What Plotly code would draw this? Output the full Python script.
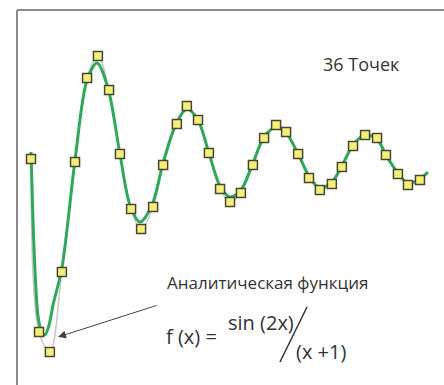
import plotly.graph_objects as go

# Sampled points (36 points)
pts_x = [0.00, 0.28, 0.66, 1.08, 1.54, 1.96, 2.34, 2.73, 3.11, 3.50, 3.85, 4.27,
         4.62, 5.10, 5.45, 5.84, 6.22, 6.61, 6.96, 7.34, 7.76, 8.15, 8.57, 8.92,
         9.34, 9.72, 10.10, 10.52, 10.87, 11.26, 11.68, 12.10, 12.41, 12.83, 13.18, 13.60]
pts_y = [0.005, -0.86, -0.96, -0.56, -0.01, 0.41, 0.52, 0.35, 0.03, -0.245, -0.345, -0.235,
         -0.025, 0.18, 0.27, 0.20, 0.035, -0.145, -0.21, -0.165, -0.025, 0.11, 0.175, 0.14,
         0.03, -0.09, -0.15, -0.12, -0.035, 0.07, 0.125, 0.11, 0.025, -0.07, -0.125, -0.10]

# Analytic function curve
fn_x = [0.00, 0.07, 0.14, 0.24, 0.35, 0.49, 0.63, 0.77, 1.08, 1.54, 1.96, 2.31, 2.69,
        3.11, 3.46, 3.81, 4.23, 4.62, 5.07, 5.45, 5.84, 6.22, 6.61, 6.96, 7.34, 7.76,
        8.15, 8.57, 8.92, 9.34, 9.72, 10.10, 10.52, 10.87, 11.26, 11.68, 12.10, 12.41,
        12.83, 13.18, 13.60, 13.88]
fn_y = [0.04, -0.30, -0.55, -0.775, -0.85, -0.875, -0.825, -0.725, -0.54, 0.0, 0.40, 0.485,
        0.36, 0.03, -0.225, -0.31, -0.225, -0.015, 0.18, 0.255, 0.20, 0.035, -0.13, -0.185,
        -0.15, -0.015, 0.115, 0.165, 0.135, 0.03, -0.08, -0.14, -0.11, -0.03, 0.075, 0.125,
        0.105, 0.025, -0.065, -0.115, -0.095, -0.06]

label_points = "36 Точек"
label_func = "Аналитическая функция"
formula_left = "f (x) ="
formula_num = "sin (2x)"
formula_den = "(x +1)"

W, H = 444, 385

def px(x):
    return x / W

def py(y):
    return 1 - y / H

fig = go.Figure()
fig.add_trace(go.Scatter(x=pts_x, y=pts_y, mode="lines",
                         line=dict(color="#c9c9c9", width=1.5, shape="spline", smoothing=1.0),
                         hoverinfo="skip"))
fig.add_trace(go.Scatter(x=fn_x, y=fn_y, mode="lines",
                         line=dict(color="#2fa85c", width=3, shape="spline", smoothing=0.9),
                         hoverinfo="skip"))
fig.add_trace(go.Scatter(x=pts_x, y=pts_y, mode="markers",
                         marker=dict(symbol="square", size=9, color="#f4ef78",
                                     line=dict(color="#4a4530", width=1.5))))

font = "Open Sans, Noto Sans, sans-serif"
ann = [
    dict(x=px(321), y=py(64), text=label_points, xanchor="left", yanchor="middle",
         font=dict(size=18, color="#333333", family=font)),
    dict(x=px(165), y=py(282), text=label_func, xanchor="left", yanchor="middle",
         font=dict(size=17, color="#333333", family=font)),
    dict(x=px(164), y=py(336), text=formula_left, xanchor="left", yanchor="middle",
         font=dict(size=20, color="#333333", family=font)),
    dict(x=px(226), y=py(322), text=formula_num, xanchor="left", yanchor="middle",
         font=dict(size=20, color="#333333", family=font)),
    dict(x=px(294), y=py(351), text=formula_den, xanchor="left", yanchor="middle",
         font=dict(size=20, color="#333333", family=font)),
]
for a in ann:
    a.update(xref="paper", yref="paper", showarrow=False)
ann.append(dict(xref="paper", yref="paper", x=px(58), y=py(337), ax=100, ay=-32,
                text="", showarrow=True, arrowhead=2, arrowsize=1.6, arrowwidth=1,
                arrowcolor="#444444"))

shapes = [
    dict(type="line", xref="paper", yref="paper", x0=px(17), y0=py(10), x1=1.0, y1=py(10),
         line=dict(color="#8a8a8a", width=2)),
    dict(type="line", xref="paper", yref="paper", x0=px(17), y0=py(10), x1=px(17), y1=0.0,
         line=dict(color="#8a8a8a", width=2)),
    dict(type="line", xref="paper", yref="paper", x0=px(280), y0=py(362), x1=px(307), y1=py(307),
         line=dict(color="#333333", width=1.5)),
]

fig.update_layout(
    width=W, height=H, margin=dict(l=0, r=0, t=0, b=0),
    paper_bgcolor="#ffffff", plot_bgcolor="#ffffff", showlegend=False,
    xaxis=dict(range=[-31 / 28.6, 413 / 28.6], visible=False),
    yaxis=dict(range=[-1.125, 0.8], visible=False),
    annotations=ann, shapes=shapes,
)
fig.write_html("out.html", config={"displayModeBar": False},
               post_script="document.body.style.margin='0';document.body.style.overflow='hidden';")
